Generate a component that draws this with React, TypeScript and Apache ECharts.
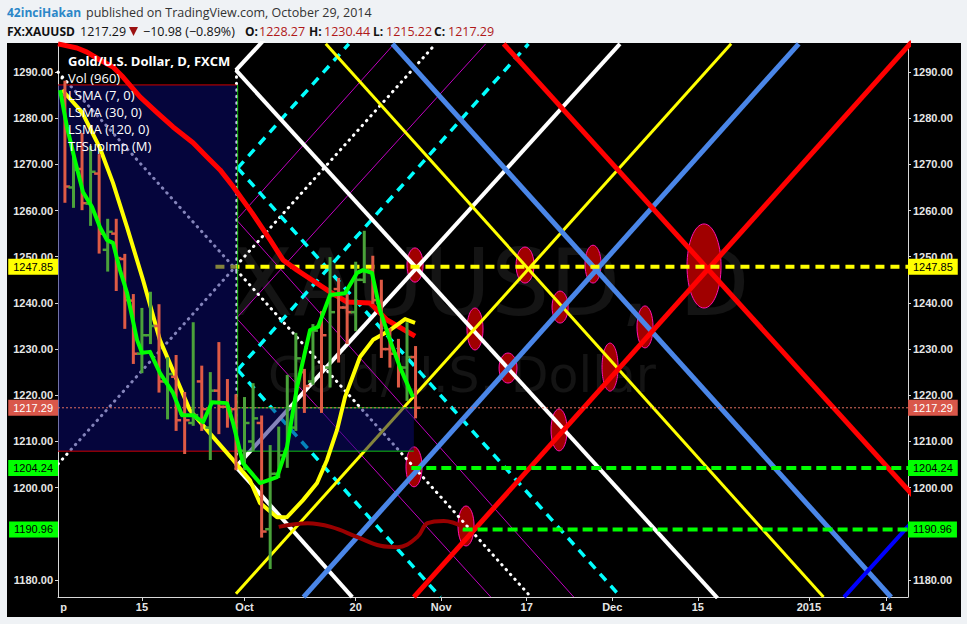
import React, { useEffect, useRef } from 'react';
import * as echarts from 'echarts';

const W = 967;
const H = 624;
const X_MIN = 0.19;
const X_MAX = 99.58;
const Y_MIN = 1176.32;
const Y_MAX = 1296.28;

const xLabelIdx = [0.85, 10, 22, 35, 45, 55, 65, 75, 88, 97];
const xLabels = ['p', '15', 'Oct', '20', 'Nov', '17', 'Dec', '15', '2015', '14'];
const xTickIdx = [10, 22, 35, 45, 55, 65, 75, 88, 97];
const yTicks = [1180, 1190, 1200, 1210, 1220, 1230, 1240, 1250, 1260, 1270, 1280, 1290];
// 1190.00 is hidden behind the 1190.96 level badge in the reference
const yLabelTicks = [1180, 1200, 1210, 1220, 1230, 1240, 1250, 1260, 1270, 1280, 1290];

// [bar index, open, high, low, close]
const ohlc: number[][] = [
  [1, 1285, 1287.9, 1261.9, 1265.2],
  [2, 1265, 1272, 1260.8, 1268.8],
  [3, 1269, 1276.6, 1260.3, 1261.6],
  [4, 1261.5, 1273.8, 1256.9, 1268.4],
  [5, 1268, 1272, 1250.9, 1255],
  [6, 1251.5, 1258, 1247, 1255.4],
  [7, 1255, 1258, 1242.8, 1249.7],
  [8, 1249.5, 1250.4, 1234.6, 1240.6],
  [9, 1240.5, 1241.7, 1227, 1229],
  [10, 1229, 1238.7, 1225, 1233],
  [11, 1233, 1242.2, 1231.3, 1235],
  [12, 1235, 1239.5, 1220.8, 1223],
  [13, 1223, 1228, 1215, 1224.6],
  [14, 1224, 1228.5, 1212.5, 1214.6],
  [15, 1216, 1220.5, 1207.5, 1214.6],
  [16, 1214, 1235.6, 1213.6, 1215.7],
  [17, 1223, 1226.2, 1212.5, 1217],
  [18, 1213, 1224.8, 1206.2, 1221],
  [19, 1221, 1231.3, 1211.8, 1217.5],
  [20, 1217.5, 1223.3, 1213.2, 1216.5],
  [21, 1217, 1220, 1204, 1208],
  [22, 1208, 1219.4, 1204, 1214],
  [23, 1210, 1222.4, 1208.1, 1215],
  [24, 1214, 1215.4, 1189.4, 1190.5],
  [25, 1191, 1209, 1182.6, 1203],
  [26, 1203, 1213, 1202.3, 1207],
  [27, 1207, 1224.2, 1204.5, 1213],
  [28, 1213, 1233.3, 1212.5, 1228],
  [29, 1225, 1225.5, 1216.4, 1222],
  [30, 1223, 1235.2, 1222.5, 1234],
  [31, 1235, 1238, 1216.4, 1233],
  [32, 1226, 1249.7, 1221.9, 1238],
  [33, 1243, 1245.2, 1227.3, 1239],
  [34, 1239, 1241.7, 1231.3, 1238],
  [35, 1238, 1248.7, 1234.1, 1245],
  [36, 1245, 1255.4, 1244.5, 1247],
  [37, 1247, 1250, 1240, 1240.6],
  [38, 1240, 1244.8, 1228.3, 1230],
  [39, 1230, 1234.3, 1226.2, 1229],
  [40, 1229, 1232, 1221.9, 1226],
  [41, 1226, 1235.6, 1219, 1228.27],
  [42, 1228.27, 1230.44, 1215.22, 1217.29],
];

const lsma7 = [
  [0.43, 1286.1], [1.24, 1278.1], [2.17, 1270.9], [3.11, 1264], [4.16, 1260.8], [5.1, 1256.4],
  [5.92, 1253.6], [6.62, 1253], [7.44, 1247.1], [8.26, 1242.2], [9.43, 1232], [10.01, 1229.2],
  [10.95, 1229.4], [12.12, 1224.8], [13.64, 1220.5], [14.69, 1215.7], [15.98, 1215.7], [17.15, 1214.2],
  [18.2, 1218.5], [19.95, 1218.3], [20.66, 1214], [21.82, 1205.3], [23.81, 1201], [25.8, 1202.3],
  [26.97, 1208.8], [28.14, 1221.8], [29.66, 1234.1], [30.6, 1234.8], [32, 1241.7], [33.75, 1242.1],
  [35.15, 1246.5], [35.85, 1247.1], [36.9, 1246.5], [37.83, 1238.5], [39, 1232], [40.17, 1226.1],
  [41.7, 1219.6],
];

const lsma30 = [
  [0.66, 1286.1], [3, 1281.3], [5.1, 1273.5], [6.62, 1266], [8.26, 1256.4], [10.13, 1245],
  [12.1, 1232], [13.6, 1225.5], [15.6, 1216.8], [17.6, 1212.5], [20.66, 1206], [22.64, 1201.6],
  [23.8, 1196.7], [25.8, 1193.6], [26.97, 1193.6], [28.84, 1197.3], [30.48, 1201], [31.65, 1206],
  [32.82, 1212.5], [33.75, 1219.6], [35.5, 1228.3], [37.03, 1232], [39, 1234.1], [40.77, 1236.5],
  [41.94, 1235.7],
];

const lsma120 = [
  [0.19, 1296.1], [2.41, 1295.2], [3.58, 1294.3], [5.1, 1292.6], [6.62, 1291.1], [7.79, 1288.9],
  [9.78, 1284.6], [11.77, 1281.2], [13.64, 1278.1], [15.98, 1274.7], [17.61, 1271.6], [19.14, 1268.8],
  [20.66, 1265.2], [22.88, 1259.5], [24.98, 1253.7], [26.5, 1249.3], [28.14, 1247.1], [32, 1242.4],
  [33.99, 1240.2], [36.68, 1240], [38.67, 1236.3], [41.94, 1232.8],
];

const supImp = [
  [26, 1191.5], [29.4, 1192.3], [32.1, 1191.5], [35.2, 1189.3], [37.9, 1187.4], [39.9, 1187.1],
  [42.2, 1189.3], [43.4, 1192.3], [45.3, 1192.8], [47.6, 1191.5],
];

const whiteRays = [
  [[21, 1290.4], [77.3, 1176.1]],
  [[21, 1290.4], [24.6, 1297.6]],
  [[21, 1204.5], [65.9, 1296.1]],
  [[21, 1204.5], [34.6, 1176.3]],
];
const yellowRays = [
  [[31.5, 1296.1], [89.7, 1176.3]],
  [[21, 1177], [78.9, 1296.1]],
];
const blueRays = [
  [[39.3, 1296.1], [97.6, 1176.3]],
  [[28.9, 1176.3], [86.8, 1296.1]],
];
const darkBlueRays = [[[92.1, 1176.3], [100.5, 1193.5]]];
const redRays = [
  [[52.3, 1296.1], [101, 1196.6]],
  [[41.8, 1176.3], [100.5, 1297.5]],
];
const cyanRays = [
  [[21.2, 1269.2], [34.2, 1296.1]],
  [[21.2, 1269.2], [66, 1176.3]],
  [[21.2, 1225.5], [55.2, 1296.1]],
  [[21.2, 1225.5], [44.9, 1176.3]],
];
const magentaRays = [
  [[21.06, 1258], [39.4, 1295.9]],
  [[21.06, 1258], [60.5, 1176.3]],
  [[21.06, 1236.7], [50.2, 1296.1]],
  [[21.06, 1236.7], [50.8, 1176.3]],
];
const dottedRays = [
  [[X_MIN, 1290], [55.5, 1176.3]],
  [[X_MIN, 1205.1], [44.35, 1296.1]],
  [[21.06, 1290.4], [21.06, 1207]],
];

// [center index, center price, x radius (bars), y radius (price)]
const ellipses = [
  [41.94, 1248.2, 0.94, 3.7],
  [48.95, 1234.35, 0.94, 4.55],
  [52.81, 1225.9, 1.05, 3.25],
  [54.8, 1248.2, 1.05, 3.9],
  [58.9, 1239.1, 0.94, 3.46],
  [62.75, 1248.4, 0.94, 4.1],
  [58.78, 1212.5, 0.94, 4.55],
  [64.74, 1226.1, 0.94, 5.2],
  [68.83, 1234.8, 0.94, 4.55],
  [75.73, 1248.0, 1.99, 9.1],
  [41.82, 1204.5, 0.94, 4.33],
  [47.9, 1191.7, 0.94, 4.33],
];

// [left index, top price, right index, bottom price]
const boxes = [
  [X_MIN, 1287.2, 21.06, 1207.9],
  [21.06, 1217.29, 41.8, 1207.9],
];
const redEdges = [
  [[X_MIN, 1287.2], [21.06, 1287.2]],
  [[X_MIN, 1207.9], [21.06, 1207.9]],
];
const greenEdges = [
  [[21.06, 1207.9], [41.8, 1207.9]],
  [[21.06, 1217.29], [41.8, 1217.29]],
  [[21.2, 1287.2], [21.2, 1207.9]],
];

const LEVEL_YELLOW = 1247.85;
const LEVEL_GREEN_A = 1204.24;
const LEVEL_GREEN_B = 1190.96;
const LAST_PRICE = 1217.29;
const levelStarts = [18.6, 41.5, 47.5];

const legendLines = ['Gold/U.S. Dollar, D, FXCM', 'Vol (960)', 'LSMA (7, 0)', 'LSMA (30, 0)', 'LSMA (120, 0)', 'TFSupImp (M)'];

const RED_BAR = '#de5a45';
const GREEN_BAR = '#4aa23a';
const AXIS_FONT = '"Liberation Sans", Arial, sans-serif';
const UI_FONT = '"Open Sans", "Noto Sans", sans-serif';

function seg(data: number[][], color: string, width: number, type: any, z: number, extra: any = {}) {
  return {
    type: 'line',
    data,
    symbol: 'none',
    silent: true,
    clip: true,
    z,
    animation: false,
    lineStyle: { color, width, type, ...extra },
  };
}

function badge(value: number, bg: string, fg: string, pos: string) {
  return {
    yAxis: value,
    lineStyle: { color: 'rgba(0,0,0,0)', width: 0 },
    label: {
      show: true,
      position: pos,
      distance: 0,
      formatter: value.toFixed(2),
      backgroundColor: bg,
      color: fg,
      fontFamily: AXIS_FONT,
      fontSize: 11,
      lineHeight: 12,
      padding: [2, 5, 2, 5],
    },
  };
}

function text(str: string, x: number, y: number, fill: string, weight: string, size: number, family: string) {
  return {
    type: 'text',
    z: 100,
    silent: true,
    style: {
      text: str,
      x,
      y,
      fill,
      font: `${weight} ${size}px ${family}`,
      align: 'left',
      verticalAlign: 'middle',
      textAlign: 'left',
      textVerticalAlign: 'middle',
    },
  };
}

export default function App() {
  const ref = useRef<HTMLDivElement>(null);

  useEffect(() => {
    if (!ref.current) return;
    const chart = echarts.init(ref.current, null, { renderer: 'svg' });

    const series: any[] = [];

    series.push({
      type: 'custom',
      z: 1,
      silent: true,
      clip: true,
      animation: false,
      data: ellipses,
      renderItem: (_p: any, api: any) => {
        const c = api.coord([api.value(0), api.value(1)]);
        const s = api.size([api.value(2), api.value(3)]);
        return {
          type: 'ellipse',
          shape: { cx: c[0], cy: c[1], rx: s[0], ry: s[1] },
          style: { fill: '#a00000', stroke: '#ff10b0', lineWidth: 1 },
        };
      },
    });

    magentaRays.forEach((d) => series.push(seg(d, '#c000c0', 1, 'solid', 2)));
    dottedRays.forEach((d) => series.push(seg(d, '#ffffff', 3, [0.5, 6], 2, { cap: 'round' })));
    cyanRays.forEach((d) => series.push(seg(d, '#00ffff', 3.5, [9, 7], 2)));
    whiteRays.forEach((d) => series.push(seg(d, '#ffffff', 4, 'solid', 2)));
    yellowRays.forEach((d) => series.push(seg(d, '#ffff00', 3, 'solid', 2)));
    blueRays.forEach((d) => series.push(seg(d, '#4a86e8', 5, 'solid', 2)));
    darkBlueRays.forEach((d) => series.push(seg(d, '#0000ff', 4, 'solid', 2)));
    redRays.forEach((d) => series.push(seg(d, '#ff0000', 5, 'solid', 2)));

    series.push(seg([[levelStarts[0], LEVEL_YELLOW], [X_MAX, LEVEL_YELLOW]], '#ffff00', 4, [9, 6], 2));
    series.push(seg([[levelStarts[1], LEVEL_GREEN_A], [X_MAX, LEVEL_GREEN_A]], '#00ff00', 4, [10, 5], 2));
    series.push(seg([[levelStarts[2], LEVEL_GREEN_B], [X_MAX, LEVEL_GREEN_B]], '#00ff00', 4, [10, 5], 2));

    series.push({
      type: 'custom',
      z: 3,
      silent: true,
      animation: false,
      data: boxes,
      renderItem: (_p: any, api: any) => {
        const a = api.coord([api.value(0), api.value(1)]);
        const b = api.coord([api.value(2), api.value(3)]);
        return {
          type: 'rect',
          shape: { x: a[0], y: a[1], width: b[0] - a[0], height: b[1] - a[1] },
          style: { fill: 'rgba(10,10,120,0.5)' },
        };
      },
    });
    redEdges.forEach((d) => series.push(seg(d, '#d00000', 1, 'solid', 3)));
    greenEdges.forEach((d) => series.push(seg(d, '#10c010', 1, 'solid', 3)));

    series.push(seg([[X_MIN, LAST_PRICE], [X_MAX, LAST_PRICE]], '#e07060', 1, [2, 2], 4));

    series.push(seg(lsma120, '#ff0000', 5, 'solid', 4, { join: 'round' }));
    series.push({ ...seg(supImp, '#990000', 4, 'solid', 4), smooth: 0.4 });
    series.push(seg(lsma30, '#ffff00', 4, 'solid', 4, { join: 'round' }));

    series.push({
      type: 'custom',
      z: 5,
      silent: true,
      animation: false,
      data: ohlc,
      renderItem: (_p: any, api: any) => {
        const i = api.value(0);
        const o = api.coord([i, api.value(1)]);
        const h = api.coord([i, api.value(2)]);
        const l = api.coord([i, api.value(3)]);
        const c = api.coord([i, api.value(4)]);
        const color = api.value(4) >= api.value(1) ? GREEN_BAR : RED_BAR;
        return {
          type: 'group',
          children: [
            { type: 'line', shape: { x1: h[0], y1: h[1] - 1, x2: l[0], y2: l[1] + 1 }, style: { stroke: color, lineWidth: 3 } },
            { type: 'line', shape: { x1: o[0] - 5, y1: o[1], x2: o[0], y2: o[1] }, style: { stroke: color, lineWidth: 2.5 } },
            { type: 'line', shape: { x1: c[0], y1: c[1], x2: c[0] + 5, y2: c[1] }, style: { stroke: color, lineWidth: 2.5 } },
          ],
        };
      },
    });
    series.push(seg(lsma7, '#00ff00', 4, 'solid', 6, { join: 'round' }));

    // level badges on both price axes
    series.push({
      type: 'line',
      data: [],
      symbol: 'none',
      silent: true,
      clip: false,
      z: 20,
      animation: false,
      markLine: {
        silent: true,
        symbol: 'none',
        animation: false,
        z: 20,
        data: [
          badge(LEVEL_YELLOW, '#ffff00', '#000000', 'start'),
          badge(LEVEL_YELLOW, '#ffff00', '#000000', 'end'),
          badge(LEVEL_GREEN_A, '#00ff00', '#000000', 'start'),
          badge(LEVEL_GREEN_A, '#00ff00', '#000000', 'end'),
          badge(LEVEL_GREEN_B, '#00ff00', '#000000', 'start'),
          badge(LEVEL_GREEN_B, '#00ff00', '#000000', 'end'),
          badge(LAST_PRICE, '#d9574a', '#ffffff', 'start'),
          badge(LAST_PRICE, '#d9574a', '#ffffff', 'end'),
        ],
      },
    });

    const yAxisBase = (position: string) => ({
      type: 'value',
      position,
      min: Y_MIN,
      max: Y_MAX,
      splitLine: { show: false },
      axisLine: { show: true, lineStyle: { color: '#d8d8d8', width: 1 } },
      axisTick: { show: true, customValues: yTicks, length: 3, lineStyle: { color: '#d8d8d8' } },
      axisLabel: {
        customValues: yLabelTicks,
        formatter: (v: number) => v.toFixed(2),
        color: '#e6e6e6',
        fontFamily: AXIS_FONT,
        fontWeight: 'bold',
        fontSize: 11,
        margin: 5,
      },
    });

    const graphicEls: any[] = [
      {
        type: 'text',
        z: 0,
        silent: true,
        style: {
          text: 'XAUUSD, D',
          x: 490,
          y: 283,
          fill: '#141414',
          font: `92px "DejaVu Sans", sans-serif`,
          align: 'center',
          verticalAlign: 'middle',
          textAlign: 'center',
          textVerticalAlign: 'middle',
        },
      },
      {
        type: 'text',
        z: 0,
        silent: true,
        style: {
          text: 'Gold/U.S. Dollar',
          x: 462,
          y: 375,
          fill: '#141414',
          font: `49px "DejaVu Sans", sans-serif`,
          align: 'center',
          verticalAlign: 'middle',
          textAlign: 'center',
          textVerticalAlign: 'middle',
        },
      },
      text('42inciHakan', 7, 12, '#2b87c8', 'bold', 12, UI_FONT),
      text('published on TradingView.com, October 29, 2014', 86, 12, '#333333', 'normal', 12.5, UI_FONT),
      text('FX:XAUUSD', 7, 31, '#111111', 'bold', 12, UI_FONT),
      text('1217.29', 80, 31, '#111111', 'normal', 12.5, UI_FONT),
      {
        type: 'polygon',
        z: 100,
        silent: true,
        shape: { points: [[129, 27], [138, 27], [133.5, 36]] },
        style: { fill: '#9b1111' },
      },
      text('\u221210.98 (\u22120.89%)', 143, 31, '#111111', 'normal', 12.5, UI_FONT),
      text('O:', 245, 31, '#111111', 'bold', 12, UI_FONT),
      text('1228.27', 259, 31, '#b01818', 'normal', 12.5, UI_FONT),
      text('H:', 309, 31, '#111111', 'bold', 12, UI_FONT),
      text('1230.44', 324, 31, '#b01818', 'normal', 12.5, UI_FONT),
      text('L:', 373, 31, '#111111', 'bold', 12, UI_FONT),
      text('1215.22', 386, 31, '#b01818', 'normal', 12.5, UI_FONT),
      text('C:', 434, 31, '#111111', 'bold', 12, UI_FONT),
      text('1217.29', 448, 31, '#b01818', 'normal', 12.5, UI_FONT),
      { type: 'circle', z: 100, silent: true, shape: { cx: 62, cy: 78, r: 1.5 }, style: { fill: '#ffffff' } },
    ];
    legendLines.forEach((t, k) => {
      graphicEls.push(text(t, 68, 61 + k * 17, '#ffffff', k === 0 ? 'bold' : 'normal', 13, UI_FONT));
    });

    chart.setOption({
      animation: false,
      backgroundColor: 'transparent',
      textStyle: { fontFamily: AXIS_FONT },
      grid: { left: 58, right: W - 908, top: 43, bottom: H - 597, containLabel: false },
      xAxis: {
        type: 'value',
        min: X_MIN,
        max: X_MAX,
        splitLine: { show: false },
        axisLine: { show: true, onZero: false, lineStyle: { color: '#d8d8d8', width: 1 } },
        axisTick: { show: true, customValues: xTickIdx, length: 4, lineStyle: { color: '#d8d8d8' } },
        axisLabel: {
          customValues: xLabelIdx,
          formatter: (v: number) => {
            const k = xLabelIdx.findIndex((x) => Math.abs(x - v) < 1e-6);
            return k >= 0 ? xLabels[k] : '';
          },
          color: '#e6e6e6',
          fontFamily: AXIS_FONT,
          fontWeight: 'bold',
          fontSize: 11,
          margin: 4,
        },
      },
      yAxis: [yAxisBase('left'), yAxisBase('right')],
      graphic: { elements: graphicEls },
      series,
    });

    return () => chart.dispose();
  }, []);

  return (
    <div style={{ position: 'fixed', left: 0, top: 0, width: W, height: H, background: '#eff2f5', overflow: 'hidden' }}>
      <div style={{ position: 'absolute', left: 7, top: 43, width: 954, height: 574, background: '#000000' }} />
      <div ref={ref} style={{ position: 'absolute', left: 0, top: 0, width: W, height: H }} />
    </div>
  );
}
